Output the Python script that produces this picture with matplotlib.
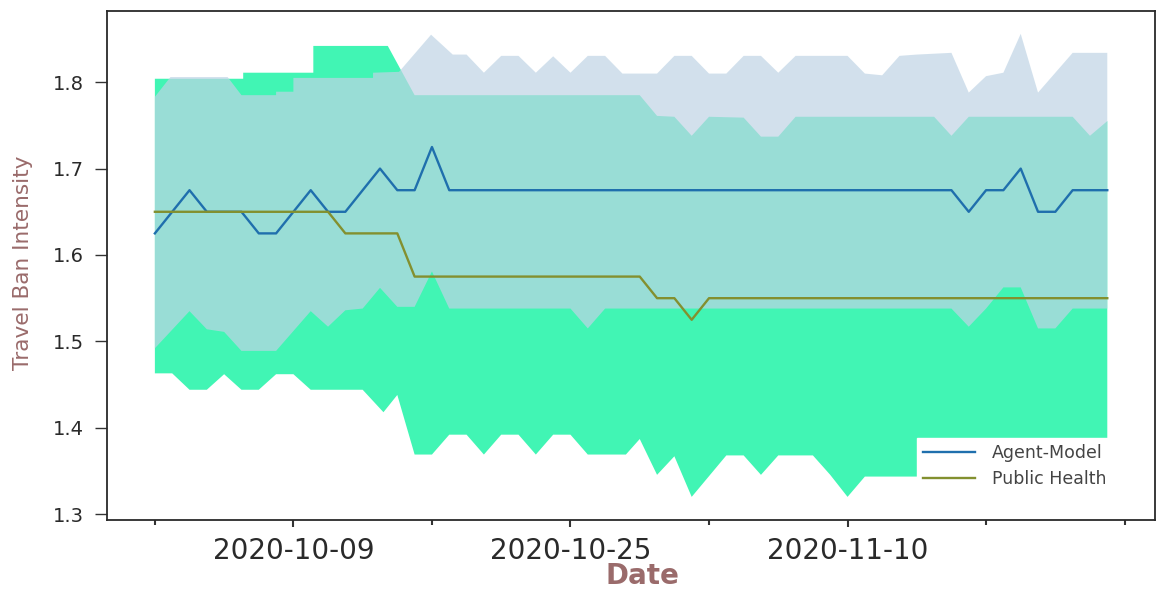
import numpy as np
import matplotlib
matplotlib.use('Agg')
import matplotlib.pyplot as plt
import matplotlib.dates as mdates
from matplotlib.ticker import FixedLocator

START = np.datetime64('2020-10-01T00:00')

# daily means, 2020-10-01 .. 2020-11-25
mean_days = np.arange(56)
agent_mean = [1.625, 1.65, 1.675, 1.65, 1.65, 1.65, 1.625, 1.625, 1.65, 1.675,
              1.65, 1.65, 1.675, 1.70, 1.675, 1.675, 1.725, 1.675, 1.675, 1.675,
              1.675, 1.675, 1.675, 1.675, 1.675, 1.675, 1.675, 1.675, 1.675, 1.675,
              1.675, 1.675, 1.675, 1.675, 1.675, 1.675, 1.675, 1.675, 1.675, 1.675,
              1.675, 1.675, 1.675, 1.675, 1.675, 1.675, 1.675, 1.65, 1.675, 1.675,
              1.70, 1.65, 1.65, 1.675, 1.675, 1.675]
public_mean = [1.65, 1.65, 1.65, 1.65, 1.65, 1.65, 1.65, 1.65, 1.65, 1.65,
               1.65, 1.625, 1.625, 1.625, 1.625, 1.575, 1.575, 1.575, 1.575, 1.575,
               1.575, 1.575, 1.575, 1.575, 1.575, 1.575, 1.575, 1.575, 1.575, 1.55,
               1.55, 1.525, 1.55, 1.55, 1.55, 1.55, 1.55, 1.55, 1.55, 1.55,
               1.55, 1.55, 1.55, 1.55, 1.55, 1.55, 1.55, 1.55, 1.55, 1.55,
               1.55, 1.55, 1.55, 1.55, 1.55, 1.55]

# confidence band edges (days after 2020-10-01, value)
agent_hi_days = [0, 0.9, 4.2, 5.0, 7.0, 7.0, 8.0, 8.0, 12.6, 12.6,
                 14.1, 15.95, 17.2, 18, 19, 20, 21, 22, 23, 24,
                 25, 26, 27, 29, 30, 31, 32, 33, 34, 35,
                 36, 37, 40, 41, 42, 43, 44, 45, 46, 47,
                 48, 49, 50, 51, 52, 53, 55]
agent_hi = [1.783, 1.806, 1.806, 1.785, 1.785, 1.789, 1.789, 1.805, 1.805, 1.811,
            1.812, 1.855, 1.832, 1.832, 1.811, 1.8305, 1.8305, 1.811, 1.830, 1.811,
            1.8305, 1.8305, 1.81, 1.81, 1.8305, 1.8305, 1.81, 1.81, 1.8305, 1.8305,
            1.811, 1.8305, 1.8305, 1.81, 1.808, 1.8305, 1.832, 1.833, 1.834, 1.788,
            1.807, 1.811, 1.856, 1.788, 1.811, 1.834, 1.834]
agent_lo_days = [0, 2, 3, 4, 5, 7, 9, 10, 11, 12,
                 13, 14, 15, 16, 17, 24, 25, 26, 46, 47,
                 48, 49, 50, 51, 52, 53, 55]
agent_lo = [1.492, 1.535, 1.514, 1.511, 1.489, 1.489, 1.535, 1.517, 1.536, 1.538,
            1.562, 1.54, 1.54, 1.581, 1.538, 1.538, 1.515, 1.538, 1.538, 1.517,
            1.538, 1.5625, 1.5625, 1.515, 1.515, 1.538, 1.538]

public_hi_days = [0, 5.1, 5.1, 9.15, 9.15, 13.45, 15, 28, 29, 30,
                  31, 32, 34, 35, 36, 37, 45, 46, 47, 53, 54, 55]
public_hi = [1.804, 1.804, 1.811, 1.811, 1.842, 1.842, 1.785, 1.785, 1.761, 1.76,
             1.738, 1.76, 1.759, 1.737, 1.737, 1.76, 1.76, 1.738, 1.76, 1.76, 1.738, 1.755]
public_lo_days = [0, 1, 2, 3, 4, 5, 6, 7, 8, 9,
                  12, 13.2, 14, 15, 16, 17, 18, 19, 20, 21,
                  22, 23, 24, 25, 27.2, 28, 29, 30, 31, 33,
                  34, 35, 36, 38, 39, 40, 41, 55]
public_lo = [1.463, 1.463, 1.444, 1.444, 1.462, 1.444, 1.444, 1.462, 1.462, 1.444,
             1.444, 1.418, 1.438, 1.369, 1.369, 1.392, 1.392, 1.369, 1.392, 1.392,
             1.369, 1.392, 1.392, 1.369, 1.369, 1.387, 1.3455, 1.367, 1.32, 1.368,
             1.368, 1.3455, 1.368, 1.368, 1.3455, 1.32, 1.3435, 1.3435]

major_dates = ['2020-10-09', '2020-10-25', '2020-11-10']
minor_dates = ['2020-10-01', '2020-10-17', '2020-11-02', '2020-11-18', '2020-11-26']

LABEL_COLOR = '#9a6b6b'
GREEN = '#41f5b4'
BAND_BLUE = '#bfd4e5'
LINE_BLUE = '#1f6fad'
LINE_OLIVE = '#83902f'


def to_dates(days):
    mins = np.round(np.asarray(days, dtype=float) * 1440).astype('timedelta64[m]')
    return START + mins


def band(ax, hi_days, hi, lo_days, lo, **kw):
    xs = np.concatenate([to_dates(hi_days), to_dates(lo_days)[::-1]])
    ys = np.concatenate([np.asarray(hi), np.asarray(lo)[::-1]])
    return ax.fill(xs, ys, lw=0, **kw)


fig = plt.figure(figsize=(11.57, 5.9), dpi=100)
ax = fig.add_axes([0.0927, 0.1186, 0.9055, 0.8633])

band(ax, public_hi_days, public_hi, public_lo_days, public_lo, color=GREEN, zorder=1)
band(ax, agent_hi_days, agent_hi, agent_lo_days, agent_lo, color=BAND_BLUE, alpha=0.7, zorder=2)

x = to_dates(mean_days)
ax.plot(x, agent_mean, color=LINE_BLUE, lw=1.7, label='Agent-Model', zorder=3)
ax.plot(x, public_mean, color=LINE_OLIVE, lw=1.7, label='Public Health', zorder=3)

ax.xaxis.set_major_locator(FixedLocator(mdates.date2num(np.array(major_dates, dtype='datetime64[D]'))))
ax.xaxis.set_minor_locator(FixedLocator(mdates.date2num(np.array(minor_dates, dtype='datetime64[D]'))))
ax.xaxis.set_major_formatter(mdates.DateFormatter('%Y-%m-%d'))
ax.set_yticks([1.3, 1.4, 1.5, 1.6, 1.7, 1.8])

ax.tick_params(axis='y', length=8.5, width=1, pad=8, labelsize=14, color='#333333', labelcolor='#2a2a2a')
ax.tick_params(axis='x', which='major', length=5, width=1.5, pad=7, labelsize=20,
               color='#333333', labelcolor='#2a2a2a')
ax.tick_params(axis='x', which='minor', length=3.5, width=1.5, color='#333333')
for s in ax.spines.values():
    s.set_linewidth(1.3)
    s.set_color('#2a2a2a')

ax.set_xlabel('Date', fontsize=20, fontweight='bold', color=LABEL_COLOR)
ax.xaxis.set_label_coords(0.511, -0.083)
ax.set_ylabel('Travel Ban Intensity', fontsize=15.6, color=LABEL_COLOR)
ax.yaxis.set_label_coords(-0.0704, 0.5056)

leg = ax.legend(loc='upper left', bbox_to_anchor=(0.7726, 0.161), borderaxespad=0,
                fontsize=12.5, handlelength=3, handletextpad=1.0, borderpad=0.35,
                labelspacing=0.45, fancybox=False, framealpha=1, facecolor='white',
                edgecolor='white')
for t in leg.get_texts():
    t.set_color('#444444')
leg.set_zorder(5)

fig.savefig('out.png', dpi=100)
